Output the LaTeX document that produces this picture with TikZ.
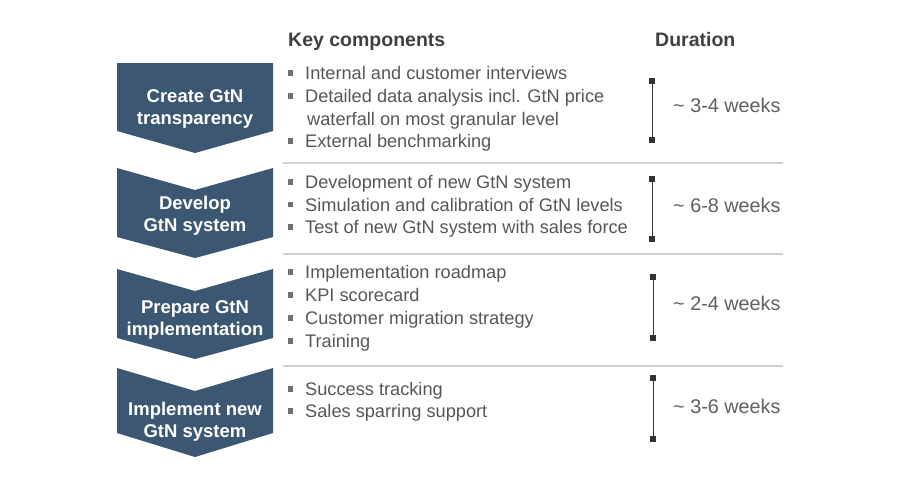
\documentclass[tikz,border=0pt]{standalone}
\usepackage{fontspec}
\setmainfont{Liberation Sans}
\begin{document}
\begin{tikzpicture}[x=1pt,y=-1pt,
  chev/.style={fill=chevblue,draw=none},
  chevtxt/.style={text=white,font=\fontsize{18.5}{22}\selectfont\bfseries,align=center,inner sep=0},
  item/.style={anchor=base west,inner sep=0,text=txtgray,font=\fontsize{18.2}{22}\selectfont},
  head/.style={anchor=base west,inner sep=0,text=headgray,font=\fontsize{19.5}{23}\selectfont\bfseries},
  bul/.style={fill=bulgray,draw=none,minimum size=5.5pt,inner sep=0},
  sep/.style={draw=sepgray,line width=1.3pt},
  brk/.style={draw=brkgray,line width=1pt},
  brkend/.style={fill=brkgray,draw=none,minimum size=6pt,inner sep=0},
  dur/.style={anchor=base west,inner sep=0,text=durgray,font=\fontsize{19.8}{23}\selectfont}
]
\definecolor{chevblue}{HTML}{3B5771}
\definecolor{txtgray}{HTML}{575757}
\definecolor{durgray}{HTML}{606060}
\definecolor{headgray}{HTML}{404040}
\definecolor{bulgray}{HTML}{707070}
\definecolor{sepgray}{HTML}{D0D0D0}
\definecolor{brkgray}{HTML}{333333}
\useasboundingbox (0,0) rectangle (900,490);
\fill[white] (0,0) rectangle (900,490);

% headers
\node[head] (hk) at (288,46) {Key components};
\node[head] (hd) at (655,46) {Duration};

% chevrons
\path[chev] (117,63) -- (273,63) -- (273,131) -- (195,153) -- (117,131) -- cycle;
\path[chev] (117,168) -- (195,190) -- (273,168) -- (273,237) -- (195,258) -- (117,237) -- cycle;
\path[chev] (117,269) -- (195,291) -- (273,269) -- (273,338) -- (195,359) -- (117,338) -- cycle;
\path[chev] (117,368) -- (195,391) -- (273,368) -- (273,433) -- (195,457) -- (117,433) -- cycle;

\node[chevtxt] (c1) at (195,108.5) {Create GtN\\transparency};
\node[chevtxt] (c2) at (195,216) {Develop\\GtN system};
\node[chevtxt] (c3) at (195,320) {Prepare GtN\\implementation};
\node[chevtxt] (c4) at (195,421.5) {Implement new\\GtN system};

% separators
\coordinate (s1a) at (283,163); \coordinate (s1b) at (783,163);
\coordinate (s2a) at (283,254); \coordinate (s2b) at (783,254);
\coordinate (s3a) at (283,366); \coordinate (s3b) at (783,366);
\draw[sep] (s1a) -- (s1b);
\draw[sep] (s2a) -- (s2b);
\draw[sep] (s3a) -- (s3b);

% items row 1
\node[bul] (b11) at (290.5,73) {};
\node[item] (t11) at (305,79.5) {Internal and customer interviews};
\node[bul] (b12) at (290.5,96) {};
\node[item] (t12) at (305,102.5) {Detailed data analysis incl. GtN price};
\node[item] (t12b) at (307,125) {waterfall on most granular level};
\node[bul] (b13) at (290.5,141) {};
\node[item] (t13) at (305,147.5) {External benchmarking};
% row 2
\node[bul] (b21) at (290.5,182) {};
\node[item] (t21) at (305,188.5) {Development of new GtN system};
\node[bul] (b22) at (290.5,204.5) {};
\node[item] (t22) at (305,211) {Simulation and calibration of GtN levels};
\node[bul] (b23) at (290.5,227) {};
\node[item] (t23) at (305,233.5) {Test of new GtN system with sales force};
% row 3
\node[bul] (b31) at (290.5,272) {};
\node[item] (t31) at (305,278.5) {Implementation roadmap};
\node[bul] (b32) at (290.5,295) {};
\node[item] (t32) at (305,301.5) {KPI scorecard};
\node[bul] (b33) at (290.5,318) {};
\node[item] (t33) at (305,324.5) {Customer migration strategy};
\node[bul] (b34) at (290.5,341) {};
\node[item] (t34) at (305,347.5) {Training};
% row 4
\node[bul] (b41) at (290.5,389) {};
\node[item] (t41) at (305,395.5) {Success tracking};
\node[bul] (b42) at (290.5,411) {};
\node[item] (t42) at (305,417.5) {Sales sparring support};

% brackets
\node[brkend] (k1a) at (652,81) {};  \node[brkend] (k1b) at (652,140) {};
\node[brkend] (k2a) at (652,179) {}; \node[brkend] (k2b) at (652,239) {};
\node[brkend] (k3a) at (653,277) {}; \node[brkend] (k3b) at (653,338) {};
\node[brkend] (k4a) at (653,378) {}; \node[brkend] (k4b) at (653,439) {};
\draw[brk] (k1a.center) -- (k1b.center);
\draw[brk] (k2a.center) -- (k2b.center);
\draw[brk] (k3a.center) -- (k3b.center);
\draw[brk] (k4a.center) -- (k4b.center);

\node[dur] (d1) at (673,112) {\textasciitilde\ 3-4 weeks};
\node[dur] (d2) at (673,212) {\textasciitilde\ 6-8 weeks};
\node[dur] (d3) at (673,310) {\textasciitilde\ 2-4 weeks};
\node[dur] (d4) at (673,413) {\textasciitilde\ 3-6 weeks};
\end{tikzpicture}
\end{document}
